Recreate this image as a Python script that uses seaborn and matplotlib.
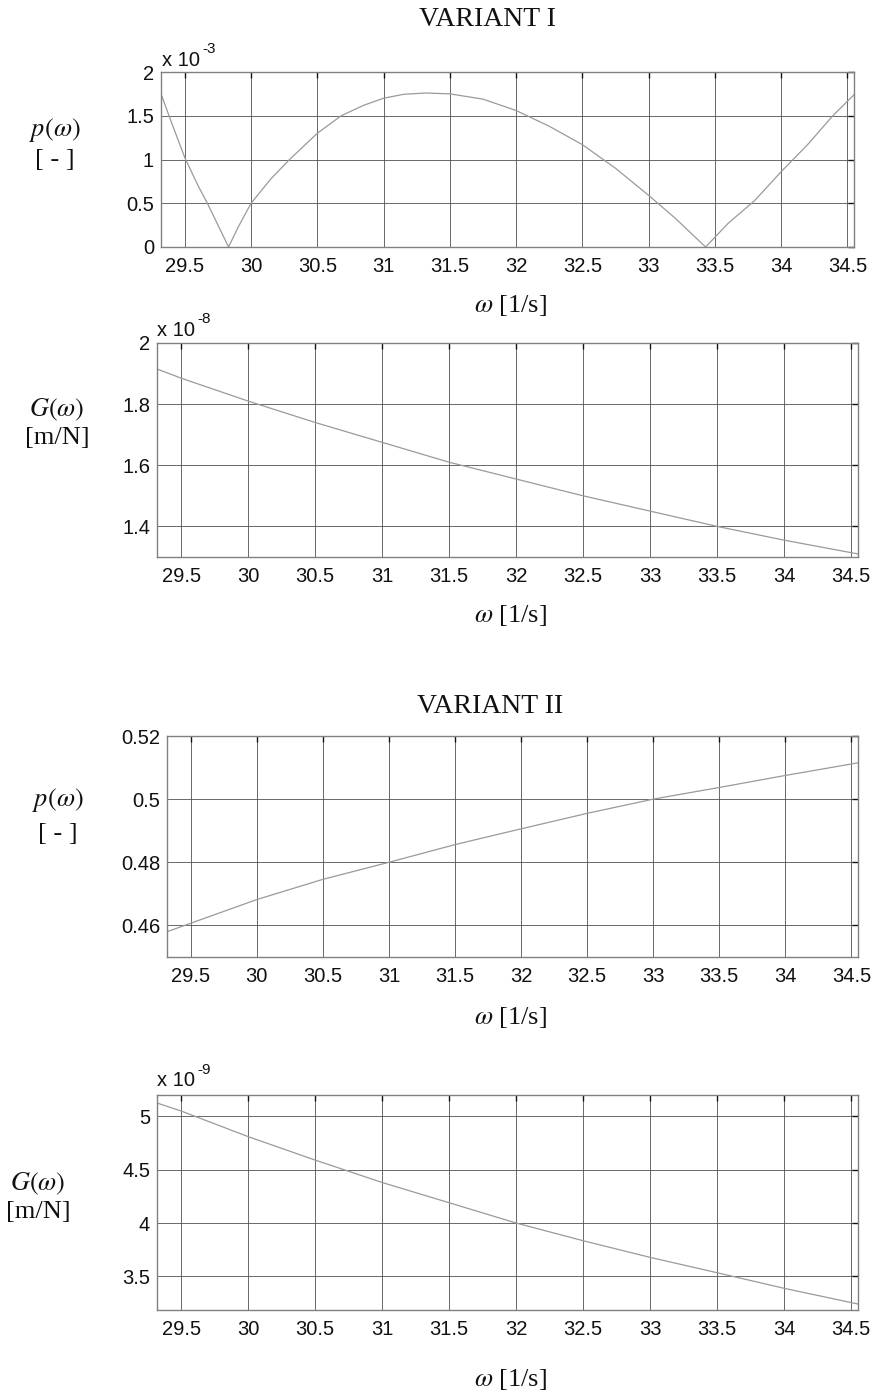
import matplotlib
matplotlib.use("Agg")
import matplotlib.pyplot as plt
import seaborn as sns
import pandas as pd

# ---- data (omega in 1/s) ----
w1 = [29.325, 29.4, 29.5, 29.6, 29.67, 29.75, 29.83, 29.9, 30.0, 30.15, 30.29, 30.5,
      30.68, 30.85, 31.0, 31.15, 31.32, 31.5, 31.75, 32.0, 32.25, 32.5, 32.75, 33.0,
      33.2, 33.43, 33.6, 33.8, 34.0, 34.2, 34.39, 34.55]
p1 = [1.73, 1.42, 1.02, 0.70, 0.50, 0.25, 0.0, 0.22, 0.50, 0.78, 1.00, 1.30,
      1.50, 1.62, 1.70, 1.745, 1.76, 1.75, 1.69, 1.56, 1.38, 1.17, 0.90, 0.59,
      0.33, 0.0, 0.27, 0.53, 0.86, 1.17, 1.50, 1.74]          # x 10^-3

w2 = [29.32, 29.5, 30.0, 30.5, 31.0, 31.5, 32.0, 32.5, 33.0, 33.5, 34.0, 34.55]
g1 = [1.915, 1.885, 1.81, 1.74, 1.675, 1.61, 1.555, 1.50, 1.45, 1.40, 1.355, 1.31]  # x 10^-8

w3 = [29.32, 29.5, 30.0, 30.5, 31.0, 31.5, 32.0, 32.5, 33.0, 33.5, 34.0, 34.55]
p2 = [0.458, 0.4607, 0.4682, 0.4746, 0.480, 0.4856, 0.4906, 0.4955, 0.500, 0.5037, 0.5075, 0.5115]

w4 = [29.32, 29.5, 30.0, 30.5, 31.0, 31.5, 32.0, 32.5, 33.0, 33.5, 34.0, 34.55]
g2 = [5.125, 5.05, 4.81, 4.59, 4.38, 4.19, 4.00, 3.834, 3.678, 3.534, 3.388, 3.241]  # x 10^-9

xticks = [29.5, 30, 30.5, 31, 31.5, 32, 32.5, 33, 33.5, 34, 34.5]
xticklabels = ["29.5", "30", "30.5", "31", "31.5", "32", "32.5", "33", "33.5", "34", "34.5"]

sns.set_style("white")
plt.rcParams['font.family'] = ['Liberation Sans', 'DejaVu Sans']
plt.rcParams['mathtext.fontset'] = 'stix'

W, H = 875, 1393
fig = plt.figure(figsize=(W / 100, H / 100), dpi=100)


def fx(px):
    return px / W


def fy(py):
    return 1 - py / H


def panel(box, w, v, ylim, yticks, yticklabels):
    l, t, r, b = box
    ax = fig.add_axes([fx(l), fy(b), fx(r) - fx(l), (b - t) / H])
    df = pd.DataFrame({"w": w, "v": v})
    sns.lineplot(data=df, x="w", y="v", ax=ax, color="#9a9a9a", lw=0.9)
    ax.set_xlim(29.32, 34.55)
    ax.set_ylim(*ylim)
    ax.set_xticks(xticks)
    ax.set_xticklabels(xticklabels)
    ax.set_yticks(yticks)
    ax.set_yticklabels(yticklabels)
    ax.set_xlabel("")
    ax.set_ylabel("")
    ax.grid(True, color="#505050", lw=0.6)
    ax.tick_params(direction="in", length=4, width=1, top=True, right=True,
                   labelsize=14.5, colors="#111111", pad=7)
    ax.tick_params(axis="y", pad=5)
    for s in ax.spines.values():
        s.set_color("#808080")
        s.set_linewidth(1)
    return ax


serif = dict(family="Liberation Serif", color="#111111")

# VARIANT I
fig.text(fx(487), fy(20), "VARIANT I", ha="center", va="center", fontsize=20, **serif)
panel((161, 72, 854, 247), w1, p1, (0, 2), [0, 0.5, 1, 1.5, 2], ["0", "0.5", "1", "1.5", "2"])
panel((157, 343, 858, 557), w2, g1, (1.3, 2.0), [1.4, 1.6, 1.8, 2.0], ["1.4", "1.6", "1.8", "2"])

# VARIANT II
fig.text(fx(490), fy(706), "VARIANT II", ha="center", va="center", fontsize=20, **serif)
panel((167, 736, 858, 957), w3, p2, (0.45, 0.52), [0.46, 0.48, 0.5, 0.52], ["0.46", "0.48", "0.5", "0.52"])
panel((157, 1095, 858, 1310), w4, g2, (3.185, 5.2), [3.5, 4, 4.5, 5], ["3.5", "4", "4.5", "5"])

# exponent labels
for x0, y0, e in [(162, 60, "-3"), (157, 330, "-8"), (157, 1081, "-9")]:
    fig.text(fx(x0), fy(y0), "x 10", ha="left", va="center", fontsize=14.5, color="#111111")
    fig.text(fx(x0 + 40), fy(y0 - 11), e, ha="left", va="center", fontsize=11, color="#111111")

# y labels
for x0, y0, lab in [(55, 130, r"$p(\omega)$"), (57, 410, r"$G(\omega)$"),
                    (58, 800, r"$p(\omega)$"), (38, 1184, r"$G(\omega)$")]:
    fig.text(fx(x0), fy(y0), lab, ha="center", va="center", fontsize=19, **serif)
for x0, y0, lab in [(55, 160, "[ - ]"), (57, 438, "[m/N]"),
                    (58, 834, "[ - ]"), (38, 1212, "[m/N]")]:
    fig.text(fx(x0), fy(y0), lab, ha="center", va="center", fontsize=19, **serif)

# x labels
for y0 in [305, 616, 1017, 1380]:
    fig.text(fx(510), fy(y0), r"$\omega$ [1/s]", ha="center", va="center", fontsize=19, **serif)

fig.savefig("out.png", dpi=100)
